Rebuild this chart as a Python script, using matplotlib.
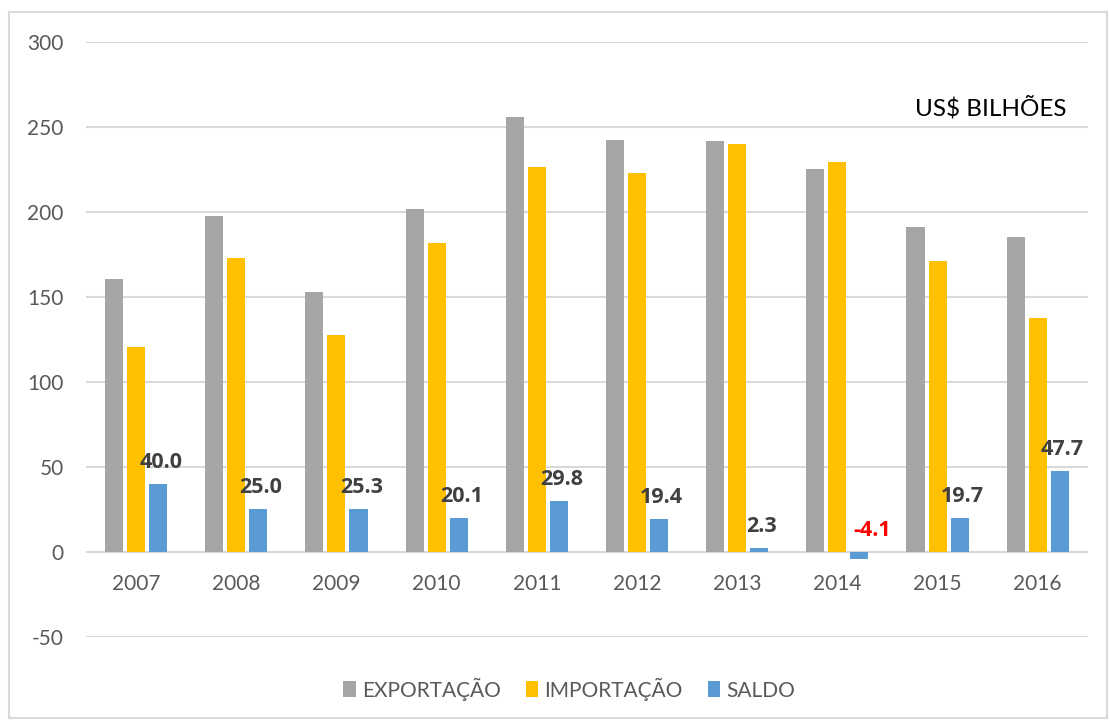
import numpy as np
import matplotlib.pyplot as plt
from matplotlib.patches import Rectangle

anos = ['2007', '2008', '2009', '2010', '2011', '2012', '2013', '2014', '2015', '2016']
exportacao = [160.6, 197.9, 153.0, 201.9, 256.0, 242.6, 242.0, 225.1, 191.1, 185.2]
importacao = [120.6, 173.0, 127.7, 181.8, 226.2, 223.2, 239.7, 229.2, 171.4, 137.5]
saldo = [40.0, 25.0, 25.3, 20.1, 29.8, 19.4, 2.3, -4.1, 19.7, 47.7]

plt.rcParams['font.family'] = ['Lato', 'DejaVu Sans']
plt.rcParams['axes.unicode_minus'] = False

fig = plt.figure(figsize=(11.1, 7.2), dpi=100)
ax = fig.add_axes([0.0775, 0.1153, 0.9025, 0.8264])

# moldura do grafico
fig.patches.append(Rectangle((0.008, 0.003), 0.989, 0.98, transform=fig.transFigure,
                             fill=False, edgecolor='#d9d9d9', lw=1.5))

x = np.arange(len(anos))
w = 0.18
ax.bar(x - 0.22, exportacao, w, color='#a5a5a5', label='EXPORTAÇÃO', zorder=3)
ax.bar(x, importacao, w, color='#ffc000', label='IMPORTAÇÃO', zorder=3)
ax.bar(x + 0.22, saldo, w, color='#5b9bd5', label='SALDO', zorder=3)

# rotulos do saldo
for i, v in enumerate(saldo):
    cor = 'red' if v < 0 else '#404040'
    dx = 9 if v < 0 else 2
    ax.annotate('%.1f' % v, (x[i] + 0.22, max(v, 0)), xytext=(dx, 8),
                textcoords='offset points', ha='center', va='bottom',
                fontsize=15.5, fontweight='bold', color=cor,
                family=['Open Sans', 'DejaVu Sans'])

ax.set_ylim(-50, 300)
ax.set_xlim(-0.5, len(anos) - 0.5)
ax.set_yticks(range(-50, 301, 50))
ax.yaxis.grid(True, color='#d9d9d9', lw=1.5, zorder=0)
ax.set_xticks(x)
ax.set_xticklabels(anos)
for s in ax.spines.values():
    s.set_visible(False)
ax.spines['bottom'].set_position(('data', 0))
ax.tick_params(axis='both', length=0, labelsize=15, colors='#595959')
ax.tick_params(axis='y', pad=16)
ax.tick_params(axis='x', pad=16)

ax.text(0.903, 0.889, 'US$ BILHÕES', transform=ax.transAxes, ha='center', va='center',
        fontsize=17.5, color='black')

leg = fig.legend(loc='center', bbox_to_anchor=(0.513, 0.043), ncol=3, frameon=False,
                 fontsize=15, handlelength=0.6, handleheight=0.8, columnspacing=1.2,
                 handletextpad=0.3)
for t in leg.get_texts():
    t.set_color('#595959')

plt.savefig('out.png', dpi=100)
